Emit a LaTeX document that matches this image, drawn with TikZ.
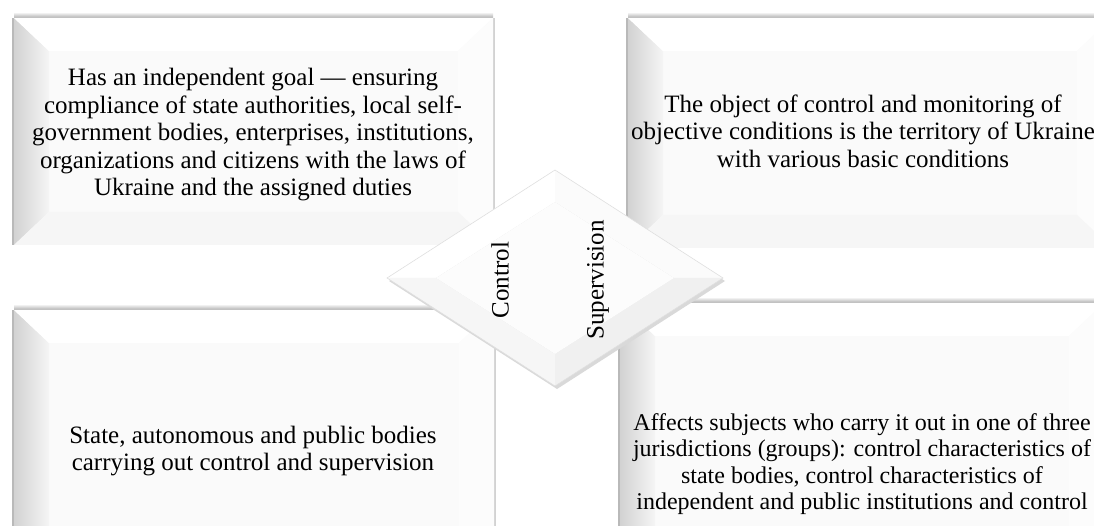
\documentclass[tikz,border=0pt]{standalone}
\usepackage{fontspec}
\setmainfont{Liberation Serif}

\begin{document}
\begin{tikzpicture}[x=1pt,y=-1pt,
   boxtext/.style={align=center,font=\fontsize{25}{27.5}\selectfont},
   sidetext/.style={font=\fontsize{25}{27.5}\selectfont,rotate=90}]
   \useasboundingbox (0,0) rectangle (1094,526);
   \clip (0,0) rectangle (1094,526);

   % the four bevelled panels (left, top, right, bottom facets around a flat face)
   \foreach \xa/\ya/\xb/\yb in {14/18/493/245, 628/18/1112/248, 14/310/494/580, 620/303/1104/580}{
      \shade[top color=white,bottom color=gray!65] (\xa,\ya-6) rectangle (\xb,\ya);
      \fill[gray!55] (\xa-2,\ya) rectangle (\xa,\yb);
      \fill[gray!35] (\xb,\ya) rectangle (\xb+1.5,\yb);
      \fill[gray!4] (\xa,\ya) rectangle (\xb,\yb);
      \shade[left color=gray!35,right color=gray!8]
         (\xa,\ya) -- (\xa+35,\ya+33) -- (\xa+35,\yb-33) -- (\xa,\yb) -- cycle;
      \fill[white] (\xa,\ya) -- (\xb,\ya) -- (\xb-35,\ya+33) -- (\xa+35,\ya+33) -- cycle;
      \fill[gray!2] (\xb,\ya) -- (\xb,\yb) -- (\xb-35,\yb-33) -- (\xb-35,\ya+33) -- cycle;
      \fill[gray!7] (\xa,\yb) -- (\xb,\yb) -- (\xb-35,\yb-33) -- (\xa+35,\yb-33) -- cycle;
   }

   % panel texts
   \node[boxtext] (goal) at (253,135) {Has an independent goal --- ensuring\\compliance of state authorities, local self-\\government bodies, enterprises, institutions,\\organizations and citizens with the laws of\\Ukraine and the assigned duties};
   \node[boxtext] (object) at (863,131) {The object of control and monitoring of\\objective conditions is the territory of Ukraine\\with various basic conditions};
   \node[boxtext] (bodies) at (253,451) {State, autonomous and public bodies\\carrying out control and supervision};
   \node[boxtext,font=\fontsize{24}{26.5}\selectfont] (subjects) at (862,464) {Affects subjects who carry it out in one of three\\jurisdictions (groups): control characteristics of\\state bodies, control characteristics of\\independent and public institutions and control};

   % centre diamond
   \coordinate (dl) at (387,278);
   \coordinate (dt) at (555,170);
   \coordinate (dr) at (723,278);
   \coordinate (db) at (555,386);
   \coordinate (il) at (436,278);
   \coordinate (it) at (555,202);
   \coordinate (ir) at (674,278);
   \coordinate (ib) at (555,354);
   \fill[gray!30] (389,281) -- (557,173) -- (725,281) -- (557,389) -- cycle;
   \fill[white] (dl) -- (dt) -- (it) -- (il) -- cycle;
   \fill[gray!3] (dt) -- (dr) -- (ir) -- (it) -- cycle;
   \fill[gray!12] (dr) -- (db) -- (ib) -- (ir) -- cycle;
   \fill[gray!7] (db) -- (dl) -- (il) -- (ib) -- cycle;
   \fill[gray!2] (il) -- (it) -- (ir) -- (ib) -- cycle;
   \draw[gray!25,line width=0.6pt] (dl) -- (dt) -- (dr) -- (db) -- cycle;

   \node[sidetext] (control) at (500,280) {Control};
   \node[sidetext] (supervision) at (598,280) {Supervision};
\end{tikzpicture}
\end{document}
